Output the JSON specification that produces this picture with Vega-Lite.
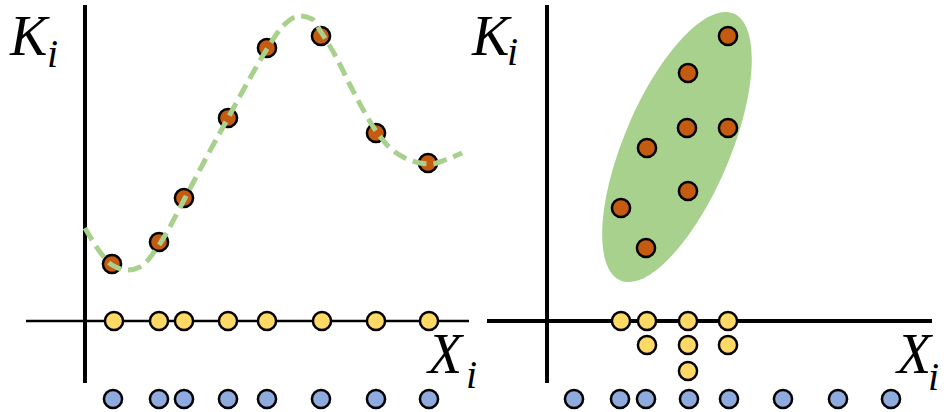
{
  "$schema": "https://vega.github.io/schema/vega-lite/v6.json",
  "padding": 0,
  "background": "white",
  "spacing": 0,
  "bounds": "flush",
  "config": {"view": {"stroke": null}},
  "hconcat": [
    {
      "width": 476,
      "height": 412,
      "encoding": {
        "x": {"field": "x", "type": "quantitative", "scale": {"domain": [-85, 391], "nice": false, "zero": false}, "axis": null},
        "y": {"field": "y", "type": "quantitative", "scale": {"domain": [-91, 321], "nice": false, "zero": false}, "axis": null}
      },
      "layer": [
        {
          "data": {"values": [{"x": 0, "y": -62, "y2": 316}]},
          "mark": {"type": "rule", "color": "black", "strokeWidth": 4},
          "encoding": {"y2": {"field": "y2"}}
        },
        {
          "data": {"values": [{"x": -59, "x2": 384, "y": 0}]},
          "mark": {"type": "rule", "color": "black", "strokeWidth": 2.5},
          "encoding": {"x2": {"field": "x2"}}
        },
        {
          "data": {"values": [
            {"x": 29, "y": 0}, {"x": 74, "y": 0}, {"x": 99, "y": 0}, {"x": 143, "y": 0},
            {"x": 182, "y": 0}, {"x": 237, "y": 0}, {"x": 291, "y": 0}, {"x": 344, "y": 0}
          ]},
          "mark": {"type": "point", "shape": "circle", "filled": true, "size": 330, "fill": "#FFD966", "stroke": "black", "strokeWidth": 2.5, "opacity": 1}
        },
        {
          "data": {"values": [
            {"x": 28, "y": -78}, {"x": 74, "y": -78}, {"x": 99, "y": -78}, {"x": 143, "y": -78},
            {"x": 182, "y": -78}, {"x": 236, "y": -78}, {"x": 291, "y": -78}, {"x": 344, "y": -78}
          ]},
          "mark": {"type": "point", "shape": "circle", "filled": true, "size": 330, "fill": "#8FAADC", "stroke": "black", "strokeWidth": 2.5, "opacity": 1}
        },
        {
          "data": {"values": [
            {"x": 27, "y": 57}, {"x": 74, "y": 79}, {"x": 99, "y": 123}, {"x": 143, "y": 203},
            {"x": 182, "y": 273}, {"x": 236, "y": 285}, {"x": 291, "y": 188}, {"x": 343, "y": 158}
          ]},
          "mark": {"type": "point", "shape": "circle", "filled": true, "size": 330, "fill": "#C55A11", "stroke": "black", "strokeWidth": 2.5, "opacity": 1}
        },
        {
          "data": {"values": [
            {"x": 0, "y": 93}, {"x": 15, "y": 69}, {"x": 27, "y": 56}, {"x": 43, "y": 51},
            {"x": 55, "y": 54}, {"x": 74, "y": 76}, {"x": 99, "y": 121}, {"x": 120, "y": 161},
            {"x": 143, "y": 203}, {"x": 165, "y": 243}, {"x": 182, "y": 272}, {"x": 198, "y": 295},
            {"x": 215, "y": 305}, {"x": 227, "y": 302}, {"x": 236, "y": 289}, {"x": 250, "y": 266},
            {"x": 265, "y": 236}, {"x": 280, "y": 208}, {"x": 291, "y": 190}, {"x": 305, "y": 173},
            {"x": 320, "y": 163}, {"x": 335, "y": 158}, {"x": 347, "y": 157}, {"x": 360, "y": 161},
            {"x": 377, "y": 168}
          ]},
          "mark": {"type": "line", "interpolate": "monotone", "color": "#A9D18E", "strokeWidth": 5, "strokeDash": [14, 7]}
        },
        {
          "data": {"values": [
            {"x": -75, "y": 266, "t": "K"}, {"x": 343, "y": -52, "t": "X"}
          ]},
          "mark": {"type": "text", "font": "Liberation Serif", "fontStyle": "italic", "fontSize": 56, "align": "left", "baseline": "alphabetic", "color": "black"},
          "encoding": {"text": {"field": "t"}}
        },
        {
          "data": {"values": [
            {"x": -38, "y": 254, "t": "i"}, {"x": 381, "y": -67, "t": "i"}
          ]},
          "mark": {"type": "text", "font": "Liberation Serif", "fontStyle": "italic", "fontSize": 40, "align": "left", "baseline": "alphabetic", "color": "black"},
          "encoding": {"text": {"field": "t"}}
        }
      ]
    },
    {
      "width": 475,
      "height": 412,
      "encoding": {
        "x": {"field": "x", "type": "quantitative", "scale": {"domain": [-71, 404], "nice": false, "zero": false}, "axis": null},
        "y": {"field": "y", "type": "quantitative", "scale": {"domain": [-91, 321], "nice": false, "zero": false}, "axis": null}
      },
      "layer": [
        {
          "data": {"values": [{"x": 130, "y": 174}]},
          "mark": {"type": "point", "shape": "M 0 -1 A 0.366 1 0 1 1 0 1 A 0.366 1 0 1 1 0 -1 Z", "filled": true, "size": 84100, "angle": 23, "fill": "#A9D18E", "strokeWidth": 0, "opacity": 1}
        },
        {
          "data": {"values": [{"x": 0, "y": -62, "y2": 316}]},
          "mark": {"type": "rule", "color": "black", "strokeWidth": 4},
          "encoding": {"y2": {"field": "y2"}}
        },
        {
          "data": {"values": [{"x": -60, "x2": 385, "y": 0}]},
          "mark": {"type": "rule", "color": "black", "strokeWidth": 4},
          "encoding": {"x2": {"field": "x2"}}
        },
        {
          "data": {"values": [
            {"x": 74, "y": 0}, {"x": 100, "y": 0}, {"x": 141, "y": 0}, {"x": 181, "y": 0},
            {"x": 100, "y": -24}, {"x": 141, "y": -24}, {"x": 181, "y": -24},
            {"x": 141, "y": -50}
          ]},
          "mark": {"type": "point", "shape": "circle", "filled": true, "size": 330, "fill": "#FFD966", "stroke": "black", "strokeWidth": 2.5, "opacity": 1}
        },
        {
          "data": {"values": [
            {"x": 27, "y": -78}, {"x": 73, "y": -78}, {"x": 99, "y": -78}, {"x": 142, "y": -78},
            {"x": 182, "y": -78}, {"x": 236, "y": -78}, {"x": 291, "y": -78}, {"x": 344, "y": -78}
          ]},
          "mark": {"type": "point", "shape": "circle", "filled": true, "size": 330, "fill": "#8FAADC", "stroke": "black", "strokeWidth": 2.5, "opacity": 1}
        },
        {
          "data": {"values": [
            {"x": 181, "y": 285}, {"x": 141, "y": 248}, {"x": 140, "y": 193}, {"x": 181, "y": 193},
            {"x": 100, "y": 173}, {"x": 141, "y": 130}, {"x": 74, "y": 113}, {"x": 99, "y": 73}
          ]},
          "mark": {"type": "point", "shape": "circle", "filled": true, "size": 330, "fill": "#C55A11", "stroke": "black", "strokeWidth": 2.5, "opacity": 1}
        },
        {
          "data": {"values": [
            {"x": -75, "y": 266, "t": "K"}, {"x": 350, "y": -52, "t": "X"}
          ]},
          "mark": {"type": "text", "font": "Liberation Serif", "fontStyle": "italic", "fontSize": 56, "align": "left", "baseline": "alphabetic", "color": "black"},
          "encoding": {"text": {"field": "t"}}
        },
        {
          "data": {"values": [
            {"x": -40, "y": 256, "t": "i"}, {"x": 381, "y": -69, "t": "i"}
          ]},
          "mark": {"type": "text", "font": "Liberation Serif", "fontStyle": "italic", "fontSize": 40, "align": "left", "baseline": "alphabetic", "color": "black"},
          "encoding": {"text": {"field": "t"}}
        }
      ]
    }
  ]
}
